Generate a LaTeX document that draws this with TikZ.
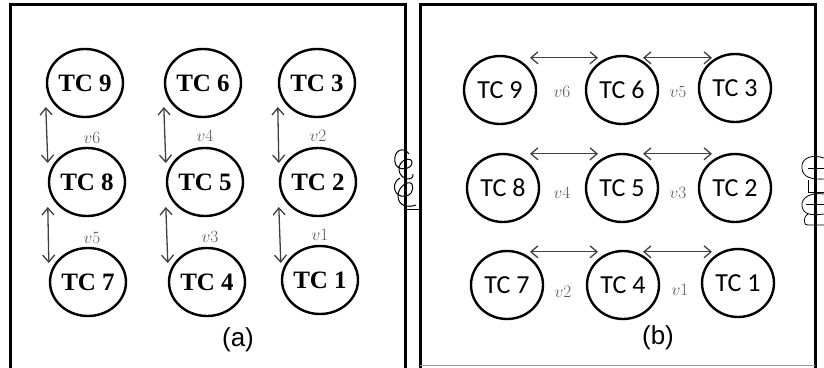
\documentclass[tikz,border=0pt]{standalone}
\usepackage{fontspec}
\newfontfamily\tcserif{Liberation Serif}
\newfontfamily\tcsans{Carlito}
\newfontfamily\capfont{Liberation Sans}
\usetikzlibrary{shapes.geometric,arrows.meta}

\tikzset{
  tca/.style={ellipse, draw, line width=2.4pt, minimum width=76pt, minimum height=68pt, inner sep=0pt, font=\tcserif\bfseries\fontsize{25}{25}\selectfont},
  tcb/.style={ellipse, draw, line width=2.4pt, minimum width=72pt, minimum height=68pt, inner sep=0pt, font=\tcsans\fontsize{26}{26}\selectfont},
  vel/.style={text=black!65, font=\fontsize{19}{19}\selectfont},
  arr/.style={<->, >={Straight Barb[length=7pt,width=12pt]}, line width=1.3pt, draw=black!75},
  frame/.style={line width=3pt}
}

\begin{document}
\begin{tikzpicture}[x=1pt, y=-1pt]

\useasboundingbox (0,0) rectangle (824,367);

% frames
\draw[frame] (10,370)--(10,4)--(405,4)--(405,370);
\draw[frame] (420,370)--(420,4)--(815,4)--(815,370);
\draw[black!40, line width=0.8pt] (420,365)--(815,365);

% (a) vertical arrangement
\node[tca] (tc9a) at (85,83) {TC 9};
\node[tca] (tc6a) at (203,83) {TC 6};
\node[tca] (tc3a) at (317,83) {TC 3};
\node[tca] (tc8a) at (87,182) {TC 8};
\node[tca] (tc5a) at (205,182) {TC 5};
\node[tca] (tc2a) at (318,182) {TC 2};
\node[tca] (tc7a) at (88,282) {TC 7};
\node[tca] (tc4a) at (207,282) {TC 4};
\node[tca] (tc1a) at (320,280) {TC 1};

\draw[arr] ([yshift=-24pt]tc9a.west) -- ([yshift=19pt]tc8a.west);
\draw[arr] ([yshift=-25pt]tc8a.west) -- ([yshift=19pt]tc7a.west);
\draw[arr] ([yshift=-24pt]tc6a.west) -- ([yshift=19pt]tc5a.west);
\draw[arr] ([yshift=-25pt]tc5a.west) -- ([yshift=19pt]tc4a.west);
\draw[arr] ([yshift=-24pt]tc3a.west) -- ([yshift=19pt]tc2a.west);
\draw[arr] ([yshift=-25pt]tc2a.west) -- ([yshift=17pt]tc1a.west);

\node[vel] (v6a) at (92,138) {$v6$};
\node[vel] (v5a) at (92,238) {$v5$};
\node[vel] (v4a) at (205,136) {$v4$};
\node[vel] (v3a) at (210,237) {$v3$};
\node[vel] (v2a) at (318,136) {$v2$};
\node[vel] (v1a) at (320,235) {$v1$};

\node[font=\capfont\fontsize{26}{26}\selectfont] (capa) at (238,340) {(a)};

% (b) horizontal arrangement
\node[tcb] (tc9b) at (500,90) {TC 9};
\node[tcb] (tc6b) at (622,90) {TC 6};
\node[tcb] (tc3b) at (735,88) {TC 3};
\node[tcb] (tc8b) at (503,188) {TC 8};
\node[tcb] (tc5b) at (622,188) {TC 5};
\node[tcb] (tc2b) at (735,188) {TC 2};
\node[tcb] (tc7b) at (507,285) {TC 7};
\node[tcb] (tc4b) at (623,285) {TC 4};
\node[tcb] (tc1b) at (738,283) {TC 1};

\draw[arr] ([shift={(30pt,-3pt)}]tc9b.north) -- ([shift={(-24pt,-3pt)}]tc6b.north);
\draw[arr] ([shift={(21pt,-3pt)}]tc6b.north) -- ([shift={(-23pt,-5pt)}]tc3b.north);
\draw[arr] ([shift={(27pt,-1pt)}]tc8b.north) -- ([shift={(-24pt,-1pt)}]tc5b.north);
\draw[arr] ([shift={(21pt,-1pt)}]tc5b.north) -- ([shift={(-23pt,-1pt)}]tc2b.north);
\draw[arr] ([shift={(23pt,-2pt)}]tc7b.north) -- ([shift={(-25pt,-2pt)}]tc4b.north);
\draw[arr] ([shift={(20pt,-2pt)}]tc4b.north) -- ([shift={(-26pt,-4pt)}]tc1b.north);

\node[vel] (v6b) at (562,92) {$v6$};
\node[vel] (v5b) at (678,92) {$v5$};
\node[vel] (v4b) at (562,193) {$v4$};
\node[vel] (v3b) at (678,193) {$v3$};
\node[vel] (v2b) at (563,292) {$v2$};
\node[vel] (v1b) at (680,290) {$v1$};

\node[font=\capfont\fontsize{26}{26}\selectfont] (capb) at (658,338) {(b)};

% scribbles on the edges
\draw[line width=1pt] (409,154) .. controls (404,146) and (393,150) .. (395,162)
  .. controls (396,172) and (413,170) .. (412,162) .. controls (411,156) and (398,160) .. (399,170)
  .. controls (400,180) and (414,182) .. (413,174);
\draw[line width=1pt] (400,178) .. controls (392,182) and (393,194) .. (401,196)
  .. controls (410,198) and (415,190) .. (412,184) .. controls (409,180) and (398,186) .. (398,196)
  .. controls (398,206) and (408,208) .. (416,205);
\draw[line width=1pt] (405,209) -- (419,209);

\draw[line width=0.8pt] (824,158) .. controls (812,154) and (803,158) .. (802,165)
  .. controls (801,174) and (806,180) .. (824,179);
\draw[line width=0.8pt] (808,168) -- (824,168);
\draw[line width=0.8pt] (808,180) -- (808,192) -- (824,192);
\draw[line width=0.8pt] (824,194) .. controls (810,192) and (801,198) .. (802,206)
  .. controls (803,214) and (810,216) .. (824,214);
\draw[line width=0.8pt] (806,204) -- (824,204);
\draw[line width=0.8pt] (808,214) .. controls (802,218) and (804,226) .. (808,225) -- (824,225);

\end{tikzpicture}
\end{document}
